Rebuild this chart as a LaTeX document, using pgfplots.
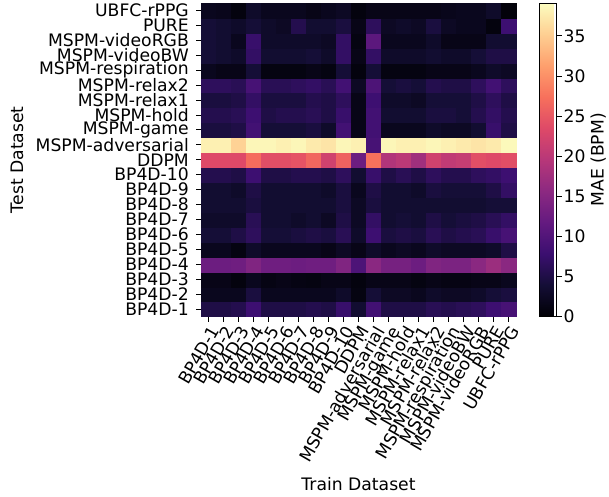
\documentclass[border=0pt]{standalone}
\usepackage{fontspec}
\setmainfont{DejaVu Sans}
\usepackage{pgfplots}
\pgfplotsset{compat=1.18}
\newcommand\fs{\fontsize{17.2}{20}\selectfont}
\pgfplotsset{colormap={magma}{rgb255=(0,0,4) rgb255=(20,14,54) rgb255=(59,15,112) rgb255=(100,26,128) rgb255=(140,41,129) rgb255=(183,55,121) rgb255=(222,73,104) rgb255=(247,112,92) rgb255=(254,159,109) rgb255=(254,207,146) rgb255=(252,253,191)}}
\begin{document}
\begin{tikzpicture}
\useasboundingbox (0,0) rectangle (609pt,496pt);
\begin{axis}[
  at={(201pt,179.5pt)}, anchor=south west,
  scale only axis, width=315pt, height=313.5pt,
  xmin=-0.5, xmax=20.5, ymin=-0.5, ymax=20.5,
  enlargelimits=false, axis on top, clip=true,
  axis line style={black, line width=0.9pt},
  colormap name=magma, point meta min=0, point meta max=39.1,
  xtick={0,...,20}, ytick={0,...,20},
  xticklabels={BP4D-1,BP4D-2,BP4D-3,BP4D-4,BP4D-5,BP4D-6,BP4D-7,BP4D-8,BP4D-9,BP4D-10,DDPM,MSPM-adversarial,MSPM-game,MSPM-hold,MSPM-relax1,MSPM-relax2,MSPM-respiration,MSPM-videoBW,MSPM-videoRGB,PURE,UBFC-rPPG},
  yticklabels={BP4D-1,BP4D-2,BP4D-3,BP4D-4,BP4D-5,BP4D-6,BP4D-7,BP4D-8,BP4D-9,BP4D-10,DDPM,MSPM-adversarial,MSPM-game,MSPM-hold,MSPM-relax1,MSPM-relax2,MSPM-respiration,MSPM-videoBW,MSPM-videoRGB,PURE,UBFC-rPPG},
  tick align=outside, major tick length=5pt,
  tick style={black, line width=0.9pt},
  xtick pos=bottom, ytick pos=left,
  tick label style={font=\fs},
  x tick label style={rotate=60, anchor=north east, inner sep=2pt},
  y tick label style={inner sep=2pt, xshift=-5pt},
  xlabel={Train Dataset}, ylabel={Test Dataset},
  xlabel style={font=\fs, at={(axis description cs:0.5,-0.533)}, anchor=center},
  ylabel style={font=\fs, at={(axis description cs:-0.584,0.5)}, anchor=center},
  /pgf/number format/assume math mode=true,
  colorbar,
  colorbar style={
    at={(parent axis.north east)}, anchor=north west, xshift=15pt,
    width=17pt,
    ytick={0,5,...,35},
    tick align=outside, major tick length=5pt,
    tick style={black, line width=0.9pt},
    axis line style={black, line width=0.9pt},
    ytick pos=right, yticklabel pos=right,
    yticklabel style={font=\fs, inner sep=2pt},
    /pgf/number format/assume math mode=true,
    ylabel={MAE (BPM)},
    ylabel style={font=\fs, at={(axis description cs:3.45,0.5)}, anchor=center, rotate=0},
  },
]
\addplot[scatter, only marks, mark=square*, mark size=7.5pt,
  mark options={line width=0.3pt},
  scatter/use mapped color={draw=mapped color, fill=mapped color},
  point meta=explicit] table[row sep=\\, x=x, y=y, meta=c]{
x y c\\
0 0 5\\ 1 0 5\\ 2 0 5.5\\ 3 0 8\\ 4 0 5\\ 5 0 5\\ 6 0 5\\ 7 0 5.5\\ 8 0 5\\ 9 0 7.5\\ 10 0 3.5\\ 11 0 8.5\\ 12 0 5\\ 13 0 5\\ 14 0 5\\ 15 0 6\\ 16 0 5.5\\ 17 0 6\\ 18 0 6.5\\ 19 0 8\\ 20 0 9\\
0 1 2\\ 1 1 2\\ 2 1 2\\ 3 1 4.5\\ 4 1 2\\ 5 1 2\\ 6 1 2\\ 7 1 2\\ 8 1 2\\ 9 1 3\\ 10 1 1\\ 11 1 4\\ 12 1 2.5\\ 13 1 2.5\\ 14 1 2\\ 15 1 3\\ 16 1 2.5\\ 17 1 2.5\\ 18 1 3\\ 19 1 4\\ 20 1 4.5\\
0 2 1.5\\ 1 2 1.5\\ 2 2 0.8\\ 3 2 2\\ 4 2 1.2\\ 5 2 1.5\\ 6 2 1.2\\ 7 2 1\\ 8 2 1.5\\ 9 2 1.5\\ 10 2 0.8\\ 11 2 1.5\\ 12 2 1.5\\ 13 2 1.5\\ 14 2 1\\ 15 2 1.5\\ 16 2 1.2\\ 17 2 1.2\\ 18 2 1.5\\ 19 2 1.5\\ 20 2 2\\
0 3 12.5\\ 1 3 12.5\\ 2 3 12.8\\ 3 3 14.5\\ 4 3 12.8\\ 5 3 12.8\\ 6 3 12.5\\ 7 3 12.8\\ 8 3 12.8\\ 9 3 14.5\\ 10 3 9.5\\ 11 3 15.5\\ 12 3 13.5\\ 13 3 13.5\\ 14 3 12.5\\ 15 3 14.5\\ 16 3 14\\ 17 3 14\\ 18 3 15.5\\ 19 3 17\\ 20 3 15.5\\
0 4 2\\ 1 4 2\\ 2 4 1\\ 3 4 3\\ 4 4 2\\ 5 4 2\\ 6 4 2\\ 7 4 2\\ 8 4 1.5\\ 9 4 2.5\\ 10 4 1.5\\ 11 4 3\\ 12 4 2\\ 13 4 2.5\\ 14 4 2\\ 15 4 3\\ 16 4 2.5\\ 17 4 2.5\\ 18 4 2.5\\ 19 4 3\\ 20 4 5\\
0 5 4\\ 1 5 4\\ 2 5 5\\ 3 5 6.5\\ 4 5 4\\ 5 5 4\\ 6 5 4.5\\ 7 5 5\\ 8 5 4.5\\ 9 5 6\\ 10 5 3\\ 11 5 8\\ 12 5 4.5\\ 13 5 5\\ 14 5 4.5\\ 15 5 6\\ 16 5 5\\ 17 5 5.5\\ 18 5 6\\ 19 5 7.5\\ 20 5 9\\
0 6 3\\ 1 6 3\\ 2 6 3\\ 3 6 6\\ 4 6 3.5\\ 5 6 3.5\\ 6 6 3\\ 7 6 3.5\\ 8 6 2.5\\ 9 6 5\\ 10 6 2.5\\ 11 6 7\\ 12 6 3.5\\ 13 6 4\\ 14 6 3.5\\ 15 6 5\\ 16 6 4\\ 17 6 4.5\\ 18 6 5\\ 19 6 6\\ 20 6 7\\
0 7 3.5\\ 1 7 3.5\\ 2 7 3.5\\ 3 7 4.5\\ 4 7 3.5\\ 5 7 3.5\\ 6 7 3.5\\ 7 7 3.5\\ 8 7 3.5\\ 9 7 4.5\\ 10 7 2.5\\ 11 7 4.5\\ 12 7 3.5\\ 13 7 3.5\\ 14 7 3.5\\ 15 7 3.5\\ 16 7 3.5\\ 17 7 3.5\\ 18 7 3.5\\ 19 7 4\\ 20 7 4\\
0 8 3.5\\ 1 8 3.5\\ 2 8 3\\ 3 8 5\\ 4 8 3.5\\ 5 8 3.5\\ 6 8 3.5\\ 7 8 3.5\\ 8 8 3\\ 9 8 4.5\\ 10 8 2\\ 11 8 5\\ 12 8 3.5\\ 13 8 3.5\\ 14 8 3\\ 15 8 4.5\\ 16 8 4\\ 17 8 4\\ 18 8 4\\ 19 8 5\\ 20 8 7\\
0 9 5.5\\ 1 9 5.5\\ 2 9 5\\ 3 9 8\\ 4 9 5\\ 5 9 5\\ 6 9 5.5\\ 7 9 5.5\\ 8 9 5\\ 9 9 6.5\\ 10 9 3.5\\ 11 9 7.5\\ 12 9 5\\ 13 9 6\\ 14 9 5\\ 15 9 6.5\\ 16 9 5.5\\ 17 9 5.5\\ 18 9 6.5\\ 19 9 7\\ 20 9 8\\
0 10 23.5\\ 1 10 23.5\\ 2 10 23.5\\ 3 10 27\\ 4 10 24\\ 5 10 24\\ 6 10 24.5\\ 7 10 26.5\\ 8 10 22\\ 9 10 26\\ 10 10 12.5\\ 11 10 27.5\\ 12 10 19\\ 13 10 20\\ 14 10 17.5\\ 15 10 22\\ 16 10 20.5\\ 17 10 21\\ 18 10 24\\ 19 10 23.5\\ 20 10 24\\
0 11 38\\ 1 11 38\\ 2 11 35.5\\ 3 11 38.5\\ 4 11 38.5\\ 5 11 38\\ 6 11 38.5\\ 7 11 37.5\\ 8 11 37\\ 9 11 38.5\\ 10 11 38\\ 11 11 9\\ 12 11 38.5\\ 13 11 38\\ 14 11 38\\ 15 11 38.5\\ 16 11 38\\ 17 11 37.5\\ 18 11 37\\ 19 11 37.5\\ 20 11 38.8\\
0 12 4.5\\ 1 12 4.5\\ 2 12 5\\ 3 12 8.5\\ 4 12 4\\ 5 12 4\\ 6 12 4\\ 7 12 4.5\\ 8 12 3\\ 9 12 8.5\\ 10 12 1.5\\ 11 12 8.5\\ 12 12 2\\ 13 12 2\\ 14 12 2\\ 15 12 3\\ 16 12 2.5\\ 17 12 2.5\\ 18 12 3.5\\ 19 12 7.5\\ 20 12 5\\
0 13 5.5\\ 1 13 5.5\\ 2 13 6\\ 3 13 8\\ 4 13 5\\ 5 13 5.5\\ 6 13 5.5\\ 7 13 6\\ 8 13 5\\ 9 13 7.5\\ 10 13 1.5\\ 11 13 8.5\\ 12 13 3.5\\ 13 13 3.5\\ 14 13 3.5\\ 15 13 4.5\\ 16 13 4.5\\ 17 13 4\\ 18 13 5.5\\ 19 13 7\\ 20 13 5.5\\
0 14 4.5\\ 1 14 4.5\\ 2 14 5\\ 3 14 7\\ 4 14 4.5\\ 5 14 4.5\\ 6 14 4.5\\ 7 14 5.5\\ 8 14 5\\ 9 14 6.5\\ 10 14 1.5\\ 11 14 8\\ 12 14 3\\ 13 14 3\\ 14 14 2.5\\ 15 14 4\\ 16 14 4\\ 17 14 4\\ 18 14 5\\ 19 14 6.5\\ 20 14 5\\
0 15 6.5\\ 1 15 6.5\\ 2 15 6\\ 3 15 9\\ 4 15 6\\ 5 15 6\\ 6 15 6.5\\ 7 15 7\\ 8 15 6\\ 9 15 8.5\\ 10 15 2.5\\ 11 15 9.5\\ 12 15 4\\ 13 15 4.5\\ 14 15 4\\ 15 15 5.5\\ 16 15 5\\ 17 15 5\\ 18 15 6.5\\ 19 15 8.5\\ 20 15 6.5\\
0 16 2\\ 1 16 1.5\\ 2 16 1.5\\ 3 16 4\\ 4 16 1\\ 5 16 1\\ 6 16 1\\ 7 16 1.5\\ 8 16 1\\ 9 16 4\\ 10 16 0.8\\ 11 16 4\\ 12 16 1\\ 13 16 1\\ 14 16 1\\ 15 16 1.5\\ 16 16 1.5\\ 17 16 1.5\\ 18 16 2\\ 19 16 3\\ 20 16 2.5\\
0 17 4\\ 1 17 3.5\\ 2 17 3\\ 3 17 7\\ 4 17 3.5\\ 5 17 3.5\\ 6 17 3.5\\ 7 17 4\\ 8 17 3\\ 9 17 7\\ 10 17 1.5\\ 11 17 7\\ 12 17 3\\ 13 17 3\\ 14 17 3\\ 15 17 3.5\\ 16 17 3\\ 17 17 3\\ 18 17 4\\ 19 17 5\\ 20 17 5\\
0 18 4\\ 1 18 3.5\\ 2 18 2\\ 3 18 7.5\\ 4 18 3\\ 5 18 3\\ 6 18 3\\ 7 18 3\\ 8 18 2.5\\ 9 18 7\\ 10 18 1\\ 11 18 11\\ 12 18 2\\ 13 18 2\\ 14 18 2\\ 15 18 3\\ 16 18 1.5\\ 17 18 1.5\\ 18 18 1.5\\ 19 18 3.5\\ 20 18 3.5\\
0 19 4\\ 1 19 3.5\\ 2 19 3\\ 3 19 4\\ 4 19 3\\ 5 19 2.5\\ 6 19 5.5\\ 7 19 3.5\\ 8 19 3.5\\ 9 19 4.5\\ 10 19 1.5\\ 11 19 6.5\\ 12 19 2.5\\ 13 19 3\\ 14 19 2.5\\ 15 19 4.5\\ 16 19 2.5\\ 17 19 2\\ 18 19 2\\ 19 19 0.8\\ 20 19 8\\
0 20 2\\ 1 20 1.8\\ 2 20 0.8\\ 3 20 3\\ 4 20 2\\ 5 20 2\\ 6 20 2\\ 7 20 1.5\\ 8 20 2\\ 9 20 2.5\\ 10 20 0.8\\ 11 20 1.5\\ 12 20 1.5\\ 13 20 1.5\\ 14 20 1.5\\ 15 20 1.5\\ 16 20 1.8\\ 17 20 2\\ 18 20 2\\ 19 20 3\\ 20 20 0.5\\
};
\end{axis}
\end{tikzpicture}
\end{document}
